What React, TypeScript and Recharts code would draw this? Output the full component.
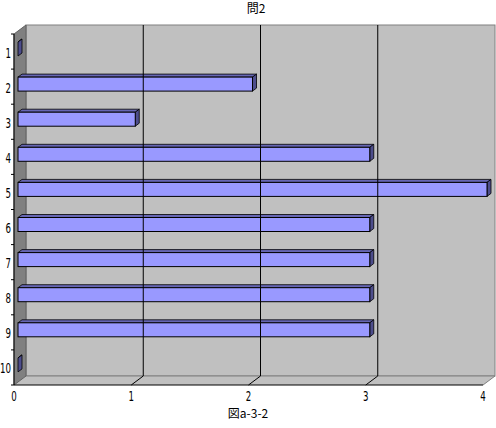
import React from 'react';
import { BarChart, Bar, XAxis, YAxis, ReferenceArea, ReferenceLine } from 'recharts';

const categories = ['1', '2', '3', '4', '5', '6', '7', '8', '9', '10'];
const counts = [0, 2, 1, 3, 4, 3, 3, 3, 3, 0];
const xTicks = [0, 1, 2, 3, 4];
const gridValues = [1, 2, 3];

const chartTitle = '問2';
const caption = '図a-3-2';

const data = categories.map((name, i) => ({ name, value: counts[i] }));

// depth of the 3d box and of the bars
const DX = 12;
const DY = 9;
const BX = 4;
const BY = 3;

const digitFont = '"DejaVu Sans", sans-serif';
const jpFont = '"Noto Sans CJK JP", sans-serif';

function Frame(props: any) {
  const { x, y, width: w, height: h } = props;
  const b = y + h;
  const step = h / categories.length;
  const ticks = [];
  for (let i = 0; i <= categories.length; i++) {
    ticks.push(<line key={i} x1={x - 3} x2={x} y1={y + i * step} y2={y + i * step} stroke="#000" />);
  }
  return (
    <g>
      <rect x={x + DX} y={y - DY} width={w} height={h} fill="#c0c0c0" stroke="#808080" />
      <polygon
        points={`${x},${b} ${x + DX},${b - DY} ${x + w + DX},${b - DY} ${x + w},${b}`}
        fill="#c0c0c0"
        stroke="none"
      />
      <line x1={x + DX} y1={b - DY} x2={x + w + DX} y2={b - DY} stroke="#808080" />
      <line x1={x + w + DX} y1={b - DY} x2={x + w} y2={b} stroke="#808080" />
      <polygon
        points={`${x},${y} ${x + DX},${y - DY} ${x + DX},${b - DY} ${x},${b}`}
        fill="#808080"
        stroke="#606060"
      />
      <line x1={x} y1={b} x2={x + w} y2={b} stroke="#000" />
      <line x1={x} y1={y} x2={x} y2={b} stroke="#000" />
      {ticks}
    </g>
  );
}

function GridLine(props: any) {
  const { x1, y1, y2 } = props;
  const top = Math.min(y1, y2);
  const bottom = Math.max(y1, y2);
  return (
    <g>
      <line x1={x1 + DX} y1={top - DY} x2={x1 + DX} y2={bottom - DY} stroke="#000" />
      <line x1={x1 + DX} y1={bottom - DY} x2={x1} y2={bottom} stroke="#000" />
    </g>
  );
}

function Bar3D(props: any) {
  const { x, y, width, height } = props;
  const fx = x + BX;
  const fy = y - BY;
  const r = fx + width;
  return (
    <g>
      <polygon
        points={`${fx},${fy} ${fx + BX},${fy - BY} ${r + BX},${fy - BY} ${r},${fy}`}
        fill="#6666b3"
        stroke="#000"
        strokeWidth={0.8}
      />
      <polygon
        points={`${r},${fy} ${r + BX},${fy - BY} ${r + BX},${fy + height - BY} ${r},${fy + height}`}
        fill="#4d4d8c"
        stroke="#000"
        strokeWidth={0.8}
      />
      {width > 0 && (
        <rect x={fx} y={fy} width={width} height={height} fill="#9999ff" stroke="#000" strokeWidth={1} />
      )}
    </g>
  );
}

function XTick(props: any) {
  const { x, y, payload } = props;
  const s = String(payload.value);
  return (
    <text
      x={x}
      y={y}
      dy={8}
      textAnchor="middle"
      fontFamily={digitFont}
      fontSize={14}
      textLength={s.length * 5.5}
      lengthAdjust="spacingAndGlyphs"
      fill="#000"
    >
      {s}
    </text>
  );
}

function YTick(props: any) {
  const { y, payload } = props;
  const s = String(payload.value);
  const len = s.length * 5.5;
  return (
    <text
      x={11 - len}
      y={y}
      dy={6}
      textAnchor="start"
      fontFamily={digitFont}
      fontSize={14}
      textLength={len}
      lengthAdjust="spacingAndGlyphs"
      fill="#000"
    >
      {s}
    </text>
  );
}

export default function App() {
  return (
    <div style={{ position: 'absolute', left: 0, top: 0, width: 496, height: 428, background: '#fff' }}>
      <div
        style={{
          position: 'absolute',
          left: 0,
          width: 512,
          top: 1,
          textAlign: 'center',
          fontFamily: jpFont,
          fontSize: 12,
          lineHeight: '13px',
        }}
      >
        {chartTitle}
      </div>
      <BarChart
        width={496}
        height={428}
        data={data}
        layout="vertical"
        margin={{ top: 34, right: 13, bottom: 13, left: 0 }}
        barSize={14}
      >
        <XAxis
          type="number"
          domain={[0, 4]}
          ticks={xTicks}
          axisLine={false}
          tickLine={false}
          tick={<XTick />}
          height={30}
          interval={0}
        />
        <YAxis
          type="category"
          dataKey="name"
          width={14}
          axisLine={false}
          tickLine={false}
          tick={<YTick />}
          interval={0}
        />
        <ReferenceArea x1={0} x2={4} shape={<Frame />} ifOverflow="visible" />
        {gridValues.map((v) => (
          <ReferenceLine key={v} x={v} shape={<GridLine />} ifOverflow="visible" />
        ))}
        <Bar dataKey="value" shape={<Bar3D />} isAnimationActive={false} />
      </BarChart>
      <div
        style={{
          position: 'absolute',
          left: 0,
          width: 496,
          top: 406,
          textAlign: 'center',
          fontFamily: jpFont,
          fontSize: 12,
          lineHeight: '14px',
        }}
      >
        {caption}
      </div>
    </div>
  );
}
